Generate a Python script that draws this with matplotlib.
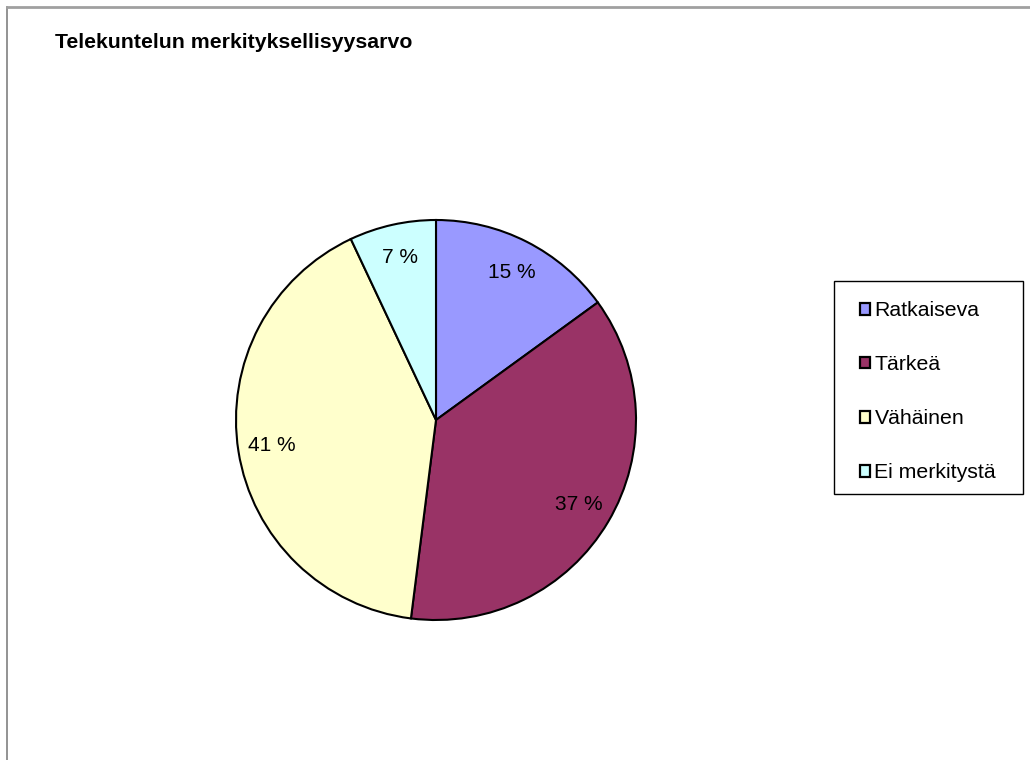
import matplotlib
matplotlib.use("Agg")
import matplotlib.pyplot as plt
from matplotlib.patches import Rectangle
from matplotlib.lines import Line2D

plt.rcParams['font.family'] = ['Liberation Sans', 'DejaVu Sans']

title = "Telekuntelun merkityksellisyysarvo"
categories = ["Ratkaiseva", "Tärkeä", "Vähäinen", "Ei merkitystä"]
values = [15, 37, 41, 7]
colors = ["#9999FF", "#993366", "#FFFFCC", "#CCFFFF"]

W, H = 1030, 760
fig = plt.figure(figsize=(W / 100, H / 100), dpi=100)


def fx(px):
    return px / W


def fy(py):
    return 1 - py / H


# outer chart-area frame (top and left edges visible)
fig.add_artist(Line2D([fx(7), fx(7)], [0, fy(6.5)], transform=fig.transFigure,
                      color="#808080", lw=1.2))
fig.add_artist(Line2D([fx(7), 1], [fy(6.5), fy(6.5)], transform=fig.transFigure,
                      color="#A0A0A0", lw=2.0))

cx, cy, r = 436, 420, 200
ax = fig.add_axes([fx(cx - r), fy(cy + r), 2 * r / W, 2 * r / H])
wedges, texts, autotexts = ax.pie(
    values, colors=colors, startangle=90, counterclock=False,
    autopct=lambda p: f"{p:.0f} %", pctdistance=0.83,
    wedgeprops=dict(edgecolor="black", linewidth=1.5),
    textprops=dict(fontsize=15, color="black"))
ax.set_aspect("equal")
ax.set_xlim(-1.0, 1.0)
ax.set_ylim(-1.0, 1.0)
ax.axis("off")

fig.text(fx(55), fy(43), title, fontsize=15.3, fontweight="bold",
         ha="left", va="center")

# legend box
fig.add_artist(Rectangle((fx(834), fy(494)), (1023 - 834) / W, (494 - 281) / H,
                         transform=fig.transFigure, facecolor="white",
                         edgecolor="black", linewidth=1.0))
for i, (lab, col) in enumerate(zip(categories, colors)):
    base = 316 + 54 * i
    fig.add_artist(Rectangle((fx(859.5), fy(base - 1.5)), 10.5 / W, 11.5 / H,
                             transform=fig.transFigure, facecolor=col,
                             edgecolor="black", linewidth=1.6))
    fig.text(fx(874.5), fy(base), lab, fontsize=15.3, ha="left", va="baseline")

fig.savefig("out.png", dpi=100)
